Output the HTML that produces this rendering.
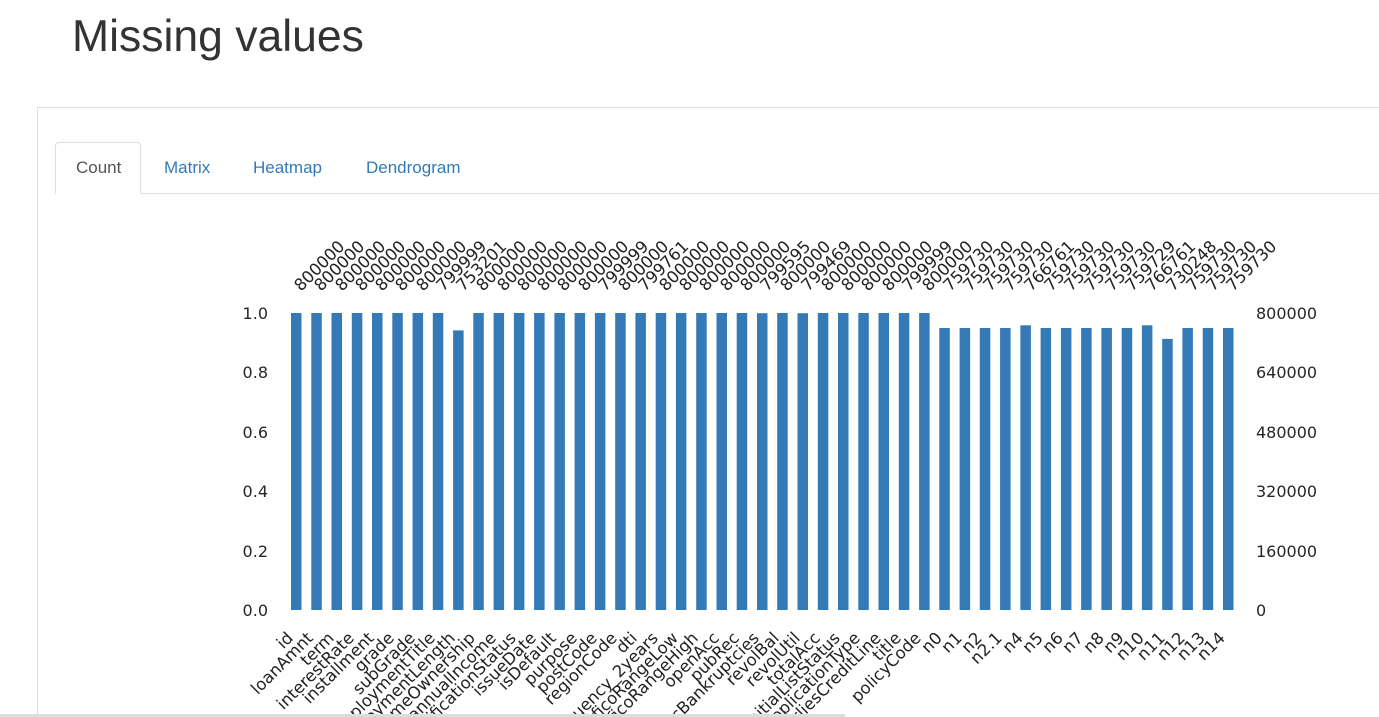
<!DOCTYPE html>
<html><head><meta charset="utf-8"><style>
html,body{margin:0;width:1379px;height:717px;overflow:hidden}
body{background:#fff;font-family:"Liberation Sans",Arial,sans-serif;position:relative}
h1{position:absolute;left:72px;top:13px;margin:0;font-size:44.5px;font-weight:normal;color:#333;line-height:1.1}
.frame{position:absolute;left:37px;top:107px;width:1342px;height:609px;border-left:1px solid #ddd;border-top:1px solid #ddd}
.tabline{position:absolute;left:55px;top:193px;width:1324px;border-top:1px solid #ddd}
.tab{position:absolute;font-size:17px;color:#337ab7}
.act{position:absolute;left:55px;top:142px;height:52px;border:1px solid #ddd;border-bottom:1px solid #fff;border-radius:4px 4px 0 0;background:#fff;box-sizing:border-box;width:86px}
.scroll{position:absolute;left:0;top:714px;width:845px;height:3px;background:#ddd}
svg{position:absolute;left:0;top:0;overflow:hidden}
</style></head><body>
<h1>Missing values</h1>
<div class="frame"></div>
<div class="tabline"></div>
<div class="act"></div>
<div class="tab" style="left:76px;top:158px;color:#555">Count</div>
<div class="tab" style="left:164px;top:158px">Matrix</div>
<div class="tab" style="left:253px;top:158px">Heatmap</div>
<div class="tab" style="left:366px;top:158px">Dendrogram</div>
<svg width="1379" height="714" font-family="DejaVu Sans, sans-serif" font-size="16.5" fill="#222">
<g fill="#262626" font-size="16">
<text x="268" y="319" text-anchor="end">1.0</text>
<text x="268" y="378" text-anchor="end">0.8</text>
<text x="268" y="438" text-anchor="end">0.6</text>
<text x="268" y="497" text-anchor="end">0.4</text>
<text x="268" y="557" text-anchor="end">0.2</text>
<text x="268" y="616" text-anchor="end">0.0</text>
<text x="1256" y="319">800000</text>
<text x="1256" y="378">640000</text>
<text x="1256" y="438">480000</text>
<text x="1256" y="497">320000</text>
<text x="1256" y="557">160000</text>
<text x="1256" y="616">0</text>
</g>
<g fill="#337ab7">
<rect x="291.0" y="313" width="10.5" height="297"/>
<rect x="311.3" y="313" width="10.5" height="297"/>
<rect x="331.5" y="313" width="10.5" height="297"/>
<rect x="351.8" y="313" width="10.5" height="297"/>
<rect x="372.0" y="313" width="10.5" height="297"/>
<rect x="392.3" y="313" width="10.5" height="297"/>
<rect x="412.6" y="313" width="10.5" height="297"/>
<rect x="432.8" y="313" width="10.5" height="297"/>
<rect x="453.1" y="330.4" width="10.5" height="279.6"/>
<rect x="473.3" y="313" width="10.5" height="297"/>
<rect x="493.6" y="313" width="10.5" height="297"/>
<rect x="513.9" y="313" width="10.5" height="297"/>
<rect x="534.1" y="313" width="10.5" height="297"/>
<rect x="554.4" y="313" width="10.5" height="297"/>
<rect x="574.6" y="313" width="10.5" height="297"/>
<rect x="594.9" y="313" width="10.5" height="297"/>
<rect x="615.2" y="313" width="10.5" height="297"/>
<rect x="635.4" y="313" width="10.5" height="297"/>
<rect x="655.7" y="313" width="10.5" height="297"/>
<rect x="675.9" y="313" width="10.5" height="297"/>
<rect x="696.2" y="313" width="10.5" height="297"/>
<rect x="716.5" y="313" width="10.5" height="297"/>
<rect x="736.7" y="313" width="10.5" height="297"/>
<rect x="757.0" y="313.2" width="10.5" height="296.8"/>
<rect x="777.2" y="313" width="10.5" height="297"/>
<rect x="797.5" y="313.2" width="10.5" height="296.8"/>
<rect x="817.8" y="313" width="10.5" height="297"/>
<rect x="838.0" y="313" width="10.5" height="297"/>
<rect x="858.3" y="313" width="10.5" height="297"/>
<rect x="878.5" y="313" width="10.5" height="297"/>
<rect x="898.8" y="313" width="10.5" height="297"/>
<rect x="919.1" y="313" width="10.5" height="297"/>
<rect x="939.3" y="328" width="10.5" height="282"/>
<rect x="959.6" y="328" width="10.5" height="282"/>
<rect x="979.8" y="328" width="10.5" height="282"/>
<rect x="1000.1" y="328" width="10.5" height="282"/>
<rect x="1020.4" y="325.3" width="10.5" height="284.7"/>
<rect x="1040.6" y="328" width="10.5" height="282"/>
<rect x="1060.9" y="328" width="10.5" height="282"/>
<rect x="1081.1" y="328" width="10.5" height="282"/>
<rect x="1101.4" y="328" width="10.5" height="282"/>
<rect x="1121.7" y="328" width="10.5" height="282"/>
<rect x="1141.9" y="325.3" width="10.5" height="284.7"/>
<rect x="1162.2" y="338.9" width="10.5" height="271.1"/>
<rect x="1182.4" y="328" width="10.5" height="282"/>
<rect x="1202.7" y="328" width="10.5" height="282"/>
<rect x="1223.0" y="328" width="10.5" height="282"/>
</g>
<g>
<text transform="translate(301,292) rotate(-45)">800000</text>
<text transform="translate(321,292) rotate(-45)">800000</text>
<text transform="translate(342,292) rotate(-45)">800000</text>
<text transform="translate(362,292) rotate(-45)">800000</text>
<text transform="translate(382,292) rotate(-45)">800000</text>
<text transform="translate(402,292) rotate(-45)">800000</text>
<text transform="translate(423,292) rotate(-45)">800000</text>
<text transform="translate(443,292) rotate(-45)">799999</text>
<text transform="translate(463,292) rotate(-45)">753201</text>
<text transform="translate(483,292) rotate(-45)">800000</text>
<text transform="translate(504,292) rotate(-45)">800000</text>
<text transform="translate(524,292) rotate(-45)">800000</text>
<text transform="translate(544,292) rotate(-45)">800000</text>
<text transform="translate(564,292) rotate(-45)">800000</text>
<text transform="translate(585,292) rotate(-45)">800000</text>
<text transform="translate(605,292) rotate(-45)">799999</text>
<text transform="translate(625,292) rotate(-45)">800000</text>
<text transform="translate(645,292) rotate(-45)">799761</text>
<text transform="translate(666,292) rotate(-45)">800000</text>
<text transform="translate(686,292) rotate(-45)">800000</text>
<text transform="translate(706,292) rotate(-45)">800000</text>
<text transform="translate(727,292) rotate(-45)">800000</text>
<text transform="translate(747,292) rotate(-45)">800000</text>
<text transform="translate(767,292) rotate(-45)">799595</text>
<text transform="translate(787,292) rotate(-45)">800000</text>
<text transform="translate(808,292) rotate(-45)">799469</text>
<text transform="translate(828,292) rotate(-45)">800000</text>
<text transform="translate(848,292) rotate(-45)">800000</text>
<text transform="translate(868,292) rotate(-45)">800000</text>
<text transform="translate(889,292) rotate(-45)">800000</text>
<text transform="translate(909,292) rotate(-45)">799999</text>
<text transform="translate(929,292) rotate(-45)">800000</text>
<text transform="translate(950,292) rotate(-45)">759730</text>
<text transform="translate(970,292) rotate(-45)">759730</text>
<text transform="translate(990,292) rotate(-45)">759730</text>
<text transform="translate(1010,292) rotate(-45)">759730</text>
<text transform="translate(1031,292) rotate(-45)">766761</text>
<text transform="translate(1051,292) rotate(-45)">759730</text>
<text transform="translate(1071,292) rotate(-45)">759730</text>
<text transform="translate(1091,292) rotate(-45)">759730</text>
<text transform="translate(1112,292) rotate(-45)">759730</text>
<text transform="translate(1132,292) rotate(-45)">759729</text>
<text transform="translate(1152,292) rotate(-45)">766761</text>
<text transform="translate(1173,292) rotate(-45)">730248</text>
<text transform="translate(1193,292) rotate(-45)">759730</text>
<text transform="translate(1213,292) rotate(-45)">759730</text>
<text transform="translate(1233,292) rotate(-45)">759730</text>
</g>
<g text-anchor="end" font-size="16.5">
<text transform="translate(294,639) rotate(-45)">id</text>
<text transform="translate(314,639) rotate(-45)">loanAmnt</text>
<text transform="translate(335,639) rotate(-45)">term</text>
<text transform="translate(355,639) rotate(-45)">interestRate</text>
<text transform="translate(375,639) rotate(-45)">installment</text>
<text transform="translate(395,639) rotate(-45)">grade</text>
<text transform="translate(416,639) rotate(-45)">subGrade</text>
<text transform="translate(436,639) rotate(-45)">employmentTitle</text>
<text transform="translate(456,639) rotate(-45)">employmentLength</text>
<text transform="translate(476,639) rotate(-45)">homeOwnership</text>
<text transform="translate(497,639) rotate(-45)">annualIncome</text>
<text transform="translate(517,639) rotate(-45)">verificationStatus</text>
<text transform="translate(537,639) rotate(-45)">issueDate</text>
<text transform="translate(557,639) rotate(-45)">isDefault</text>
<text transform="translate(578,639) rotate(-45)">purpose</text>
<text transform="translate(598,639) rotate(-45)">postCode</text>
<text transform="translate(618,639) rotate(-45)">regionCode</text>
<text transform="translate(638,639) rotate(-45)">dti</text>
<text transform="translate(659,639) rotate(-45)">delinquency_2years</text>
<text transform="translate(679,639) rotate(-45)">ficoRangeLow</text>
<text transform="translate(699,639) rotate(-45)">ficoRangeHigh</text>
<text transform="translate(720,639) rotate(-45)">openAcc</text>
<text transform="translate(740,639) rotate(-45)">pubRec</text>
<text transform="translate(760,639) rotate(-45)">pubRecBankruptcies</text>
<text transform="translate(780,639) rotate(-45)">revolBal</text>
<text transform="translate(801,639) rotate(-45)">revolUtil</text>
<text transform="translate(821,639) rotate(-45)">totalAcc</text>
<text transform="translate(841,639) rotate(-45)">initialListStatus</text>
<text transform="translate(861,639) rotate(-45)">applicationType</text>
<text transform="translate(882,639) rotate(-45)">earliesCreditLine</text>
<text transform="translate(902,639) rotate(-45)">title</text>
<text transform="translate(922,639) rotate(-45)">policyCode</text>
<text transform="translate(943,639) rotate(-45)">n0</text>
<text transform="translate(963,639) rotate(-45)">n1</text>
<text transform="translate(983,639) rotate(-45)">n2</text>
<text transform="translate(1003,639) rotate(-45)">n2.1</text>
<text transform="translate(1024,639) rotate(-45)">n4</text>
<text transform="translate(1044,639) rotate(-45)">n5</text>
<text transform="translate(1064,639) rotate(-45)">n6</text>
<text transform="translate(1084,639) rotate(-45)">n7</text>
<text transform="translate(1105,639) rotate(-45)">n8</text>
<text transform="translate(1125,639) rotate(-45)">n9</text>
<text transform="translate(1145,639) rotate(-45)">n10</text>
<text transform="translate(1166,639) rotate(-45)">n11</text>
<text transform="translate(1186,639) rotate(-45)">n12</text>
<text transform="translate(1206,639) rotate(-45)">n13</text>
<text transform="translate(1226,639) rotate(-45)">n14</text>
</g>
</svg>
<div class="scroll"></div>
</body></html>
